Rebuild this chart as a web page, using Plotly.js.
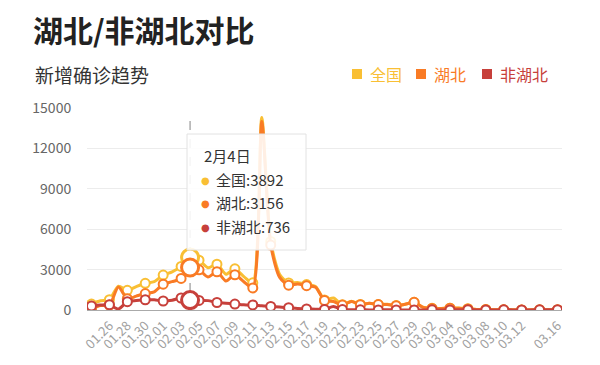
<!DOCTYPE html>
<html>
<head>
<meta charset="utf-8">
<script src="https://cdn.plot.ly/plotly-3.0.1.min.js"></script>
<style>
  html, body { margin: 0; padding: 0; background: #fff; }
  #chart { width: 600px; height: 365px; }
</style>
</head>
<body>
<div id="chart"></div>
<script>
// ---- data ----
const dates = ['01.24','01.25','01.26','01.27','01.28','01.29','01.30','01.31',
  '02.01','02.02','02.03','02.04','02.05','02.06','02.07','02.08','02.09','02.10',
  '02.11','02.12','02.13','02.14','02.15','02.16','02.17','02.18','02.19','02.20',
  '02.21','02.22','02.23','02.24','02.25','02.26','02.27','02.28','02.29',
  '03.01','03.02','03.03','03.04','03.05','03.06','03.07','03.08','03.09','03.10',
  '03.11','03.12','03.13','03.14','03.15','03.16'];
const quanguo = [444,688,769,1771,1459,1737,1982,2102,
  2590,2829,3235,3892,3694,3143,3399,2656,3062,2478,
  2015,14300,5090,2641,2009,2048,1886,1749,745,889,
  397,648,409,508,406,433,327,427,573,
  202,125,119,139,143,99,44,40,19,24,
  15,8,11,20,16,21];
const hubei = [80,323,371,1700,840,1032,1220,1347,
  1921,2103,2345,3156,2987,2447,2841,2147,2618,2097,
  1638,14000,4823,2420,1843,1933,1807,1693,700,631,
  366,630,398,499,401,409,318,423,570,
  196,114,115,134,126,74,41,36,17,13,
  8,5,4,4,4,1];
const feihubei = [300,365,398,70,619,705,762,755,
  669,726,890,736,707,696,558,509,444,381,
  377,312,267,221,166,115,79,56,45,258,
  31,18,11,9,5,24,9,4,3,
  6,11,4,5,17,25,3,4,2,11,
  7,3,7,16,12,20];
const tickLabels = ['01.26','01.28','01.30','02.01','02.03','02.05','02.07','02.09',
  '02.11','02.13','02.15','02.17','02.19','02.21','02.23','02.25','02.27','02.29',
  '03.02','03.04','03.06','03.08','03.10','03.12','03.16'];
const yTicks = [0,3000,6000,9000,12000,15000];
const seriesNames = ['全国','湖北','非湖北'];
const hoverDate = '02.04';
const hoverTitle = '2月4日';
const titleText = '湖北/非湖北对比';
const subtitleText = '新增确诊趋势';

// ---- style ----
const colors = ['#f9bf34','#f97b25','#c7403b'];
const FONT = '"Noto Sans CJK SC", "Noto Sans", sans-serif';
const W = 600, H = 365;
const M = {l: 87, r: 38, t: 108, b: 55};
const PW = W - M.l - M.r, PH = H - M.t - M.b;
const px = x => (x - M.l) / PW;
const py = y => (H - M.b - y) / PH;

const seriesVals = [quanguo, hubei, feihubei];
const traces = [];
seriesVals.forEach((vals, k) => {
  traces.push({
    x: dates, y: vals, type: 'scatter', mode: 'lines',
    line: {color: colors[k], width: 3, shape: 'spline', smoothing: 0.7},
    hoverinfo: 'skip', showlegend: false
  });
  const ex = dates.filter((d, i) => i % 2 === 0);
  const ey = vals.filter((v, i) => i % 2 === 0);
  traces.push({
    x: ex, y: ey, type: 'scatter', mode: 'markers',
    marker: {symbol: 'circle', size: 9, color: '#fff', line: {color: colors[k], width: 2}},
    hoverinfo: 'skip', showlegend: false
  });
});
const hi = dates.indexOf(hoverDate);
seriesVals.forEach((vals, k) => {
  traces.push({
    x: [dates[hi]], y: [vals[hi]], type: 'scatter', mode: 'markers',
    marker: {symbol: 'circle', size: 17, color: '#fff', line: {color: colors[k], width: 3}},
    hoverinfo: 'skip', showlegend: false
  });
});

const shapes = [
  {type: 'line', xref: 'x', yref: 'paper', x0: hi, x1: hi, y0: 0, y1: py(113),
   line: {color: '#999', width: 1.2, dash: 'dash'}, layer: 'below'},
  {type: 'rect', xref: 'paper', yref: 'paper', x0: px(187), x1: px(306), y0: py(250), y1: py(134),
   fillcolor: 'rgba(255,255,255,0.88)', line: {color: '#e2e2e2', width: 1}, layer: 'above'}
];
const annotations = [
  {xref: 'paper', yref: 'paper', x: px(33), y: py(74), xanchor: 'left', yanchor: 'middle',
   text: subtitleText, showarrow: false, font: {family: FONT, size: 19, color: '#333'}},
  {xref: 'paper', yref: 'paper', x: px(202), y: py(155), xanchor: 'left', yanchor: 'middle',
   text: hoverTitle, showarrow: false, font: {family: FONT, size: 15, color: '#333'}}
];
// legend
const legX = [352, 416, 482];
seriesNames.forEach((n, k) => {
  shapes.push({type: 'rect', xref: 'paper', yref: 'paper',
    x0: px(legX[k]), x1: px(legX[k] + 10), y0: py(79), y1: py(69),
    fillcolor: colors[k], line: {width: 0}, layer: 'above'});
  annotations.push({xref: 'paper', yref: 'paper', x: px(legX[k] + 16), y: py(74),
    xanchor: 'left', yanchor: 'middle', text: n, showarrow: false,
    font: {family: FONT, size: 16, color: colors[k]}});
});
// tooltip rows
const rowY = [179, 202, 226];
seriesNames.forEach((n, k) => {
  annotations.push({xref: 'paper', yref: 'paper', x: px(205), y: py(rowY[k] + 1),
    xanchor: 'center', yanchor: 'middle', text: '●', showarrow: false,
    font: {family: 'DejaVu Sans', size: 10, color: colors[k]}});
  annotations.push({xref: 'paper', yref: 'paper', x: px(214), y: py(rowY[k]),
    xanchor: 'left', yanchor: 'middle', text: n + ':' + seriesVals[k][hi], showarrow: false,
    font: {family: FONT, size: 15, color: '#333'}});
});

const layout = {
  width: W, height: H,
  margin: M,
  paper_bgcolor: '#fff', plot_bgcolor: '#fff',
  font: {family: FONT},
  title: {text: '<b>' + titleText + '</b>', xref: 'container', yref: 'container',
    x: 33 / W, xanchor: 'left', y: 1 - 31 / H, yanchor: 'middle',
    font: {family: FONT, size: 30, color: '#222'}},
  xaxis: {type: 'category', categoryorder: 'array', categoryarray: dates,
    range: [-0.5, dates.length - 0.5], tickmode: 'array', tickvals: tickLabels, ticktext: tickLabels,
    tickangle: -45, tickfont: {family: FONT, size: 13, color: '#a0a0a0'},
    showgrid: false, zeroline: false, showline: true, linecolor: '#aaa', linewidth: 1,
    ticks: 'outside', ticklen: 2, tickcolor: 'rgba(0,0,0,0)', fixedrange: true},
  yaxis: {range: [0, 15000], tickmode: 'array', tickvals: yTicks, ticktext: yTicks.map(String),
    tickfont: {family: FONT, size: 14, color: '#666'},
    showgrid: true, gridcolor: '#ececec', gridwidth: 1, zeroline: false, showline: false,
    ticks: 'outside', ticklen: 12, tickcolor: 'rgba(0,0,0,0)', fixedrange: true},
  shapes: shapes, annotations: annotations,
  showlegend: false
};
Plotly.newPlot('chart', traces, layout, {staticPlot: true, displayModeBar: false});
</script>
</body>
</html>
